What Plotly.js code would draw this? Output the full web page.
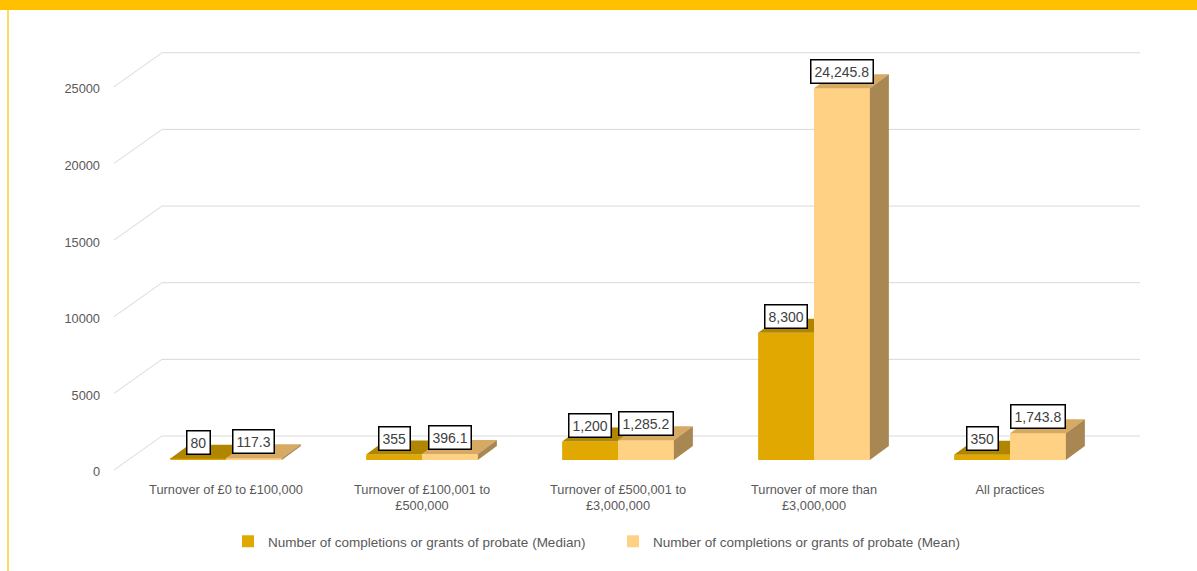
<!DOCTYPE html>
<html>
<head>
<meta charset="utf-8">
<script src="https://cdn.plot.ly/plotly-3.0.1.min.js"></script>
<style>html,body{margin:0;padding:0;background:#fff;}#chart{width:1197px;height:571px;}</style>
</head>
<body>
<div id="chart"></div>
<script>
// ---- data ----
const categories = [
  "Turnover of £0 to £100,000",
  "Turnover of £100,001 to<br>£500,000",
  "Turnover of £500,001 to<br>£3,000,000",
  "Turnover of more than<br>£3,000,000",
  "All practices"
];
const medianValues = [80, 355, 1200, 8300, 350];
const meanValues = [117.3, 396.1, 1285.2, 24245.8, 1743.8];
const seriesNames = [
  "Number of completions or grants of probate (Median)",
  "Number of completions or grants of probate (Mean)"
];
const yTicks = [0, 5000, 10000, 15000, 20000, 25000];
const yTickText = ["0", "5000", "10000", "15000", "20000", "25000"];

// ---- layout geometry (pixels) ----
const W = 1197, H = 571;
const ML = 128, MR = 89, MT = 20, MB = 91;
const plotW = W - ML - MR, plotH = H - MT - MB;
const plotBottom = H - MB;
const k = 0.01533;               // pixels per unit
const barZeroPx = 460;           // pixel of 0 at bar front plane
const frontZeroPx = 470;         // pixel of 0 at front plane (diagonal start)
const labelZeroPx = 472;         // pixel of 0 for the tick-label axis
const backZeroPx = 436;          // pixel of 0 at back wall
const yRange = [-(plotBottom - barZeroPx) / k, (barZeroPx - MT) / k];
const y2Range = [-(plotBottom - labelZeroPx) / k, (labelZeroPx - MT) / k];
const frontOff = (barZeroPx - frontZeroPx) / k; // units offset
const backOff = (barZeroPx - backZeroPx) / k;
const catPx = plotW / categories.length;
const bargap = 0.43;
const w = (1 - bargap) / 2;
const DX = 19 / catPx, DY = 14 / k;

const pxX = p => (p - ML) / plotW;
const pxY = p => (plotBottom - p) / plotH;

const C = {
  medFront: "#E0A800", medTop: "#B08600",
  meanFront: "#FFD185", meanTop: "#D6AA63", meanSide: "#A88752",
  grid: "#D9D9D9", text: "#595959"
};

const shapes = [];
// header band and left border
shapes.push({type: "rect", xref: "paper", yref: "paper", x0: pxX(0), x1: pxX(W), y0: pxY(10), y1: pxY(0),
  fillcolor: "#FFC000", line: {width: 0}, layer: "below"});
shapes.push({type: "line", xref: "paper", yref: "paper", x0: pxX(8), x1: pxX(8), y0: pxY(H), y1: pxY(10),
  line: {color: "#FFD966", width: 2}, layer: "below"});
// back-wall gridlines and floor diagonals
yTicks.forEach(v => {
  shapes.push({type: "line", xref: "paper", yref: "y", x0: pxX(162), x1: pxX(1140), y0: v + backOff, y1: v + backOff,
    line: {color: C.grid, width: 1}, layer: "below"});
  shapes.push({type: "line", xref: "paper", yref: "y", x0: pxX(114), x1: pxX(162), y0: v + frontOff, y1: v + backOff,
    line: {color: C.grid, width: 1}, layer: "below"});
});
const P = pts => "M" + pts.map(p => p[0] + "," + p[1]).join(" L") + " Z";
categories.forEach((c, i) => {
  const vm = medianValues[i], vn = meanValues[i];
  const x0 = i - w, x1 = i, x2 = i + w;
  shapes.push({type: "path", xref: "x", yref: "y", fillcolor: C.medTop, line: {width: 0},
    path: P([[x0, vm], [x1, vm], [x1 + DX, vm + DY], [x0 + DX, vm + DY]])});
  shapes.push({type: "path", xref: "x", yref: "y", fillcolor: C.meanFront, line: {width: 0},
    path: P([[x1, 0], [x2, 0], [x2, vn], [x1, vn]])});
  shapes.push({type: "path", xref: "x", yref: "y", fillcolor: C.meanTop, line: {width: 0},
    path: P([[x1, vn], [x2, vn], [x2 + DX, vn + DY], [x1 + DX, vn + DY]])});
  shapes.push({type: "path", xref: "x", yref: "y", fillcolor: C.meanSide, line: {width: 0},
    path: P([[x2, 0], [x2, vn], [x2 + DX, vn + DY], [x2 + DX, DY]])});
});

const fmtMed = v => v.toLocaleString("en-US");
const fmtMean = v => v.toLocaleString("en-US", {minimumFractionDigits: 1, maximumFractionDigits: 1});
const annotations = [];
categories.forEach((c, i) => {
  [[medianValues[i], i - w / 2, fmtMed], [meanValues[i], i + w / 2, fmtMean]].forEach(([v, x, f]) => {
    annotations.push({x: x, y: v, xref: "x", yref: "y", text: f(v), showarrow: false,
      yanchor: "bottom", yshift: 4, bgcolor: "#FFFFFF", bordercolor: "#000000", borderwidth: 1.5, borderpad: 3,
      font: {family: "Liberation Sans, Arial, sans-serif", size: 14, color: "#404040"}});
  });
});

const traces = [
  {type: "bar", name: seriesNames[0], x: categories, y: medianValues, marker: {color: C.medFront}, hoverinfo: "y+name"},
  {type: "bar", name: seriesNames[1], x: categories, y: meanValues, marker: {color: C.meanFront}, hoverinfo: "y+name"},
  {type: "scatter", x: [categories[0]], y: [0], yaxis: "y2", mode: "markers", marker: {opacity: 0}, showlegend: false, hoverinfo: "skip"}
];

const layout = {
  width: W, height: H,
  margin: {l: ML, r: MR, t: MT, b: MB, autoexpand: false},
  paper_bgcolor: "#FFFFFF", plot_bgcolor: "rgba(0,0,0,0)",
  barmode: "group", bargap: bargap, bargroupgap: 0,
  font: {family: "Liberation Sans, Arial, sans-serif", size: 12.5, color: C.text},
  xaxis: {type: "category", range: [-0.5, categories.length - 0.5], showgrid: false, zeroline: false,
    showline: false, ticks: "", tickfont: {size: 12.8, color: C.text}, fixedrange: true},
  yaxis: {range: yRange, showgrid: false, zeroline: false, showticklabels: false, showline: false, fixedrange: true},
  yaxis2: {range: y2Range, overlaying: "y", anchor: "x", side: "left", showgrid: false, zeroline: false,
    showline: false, tickmode: "array", tickvals: yTicks, ticktext: yTickText, ticks: "",
    ticklabelstandoff: 27, tickfont: {size: 12.8, color: C.text}, fixedrange: true},
  showlegend: true,
  legend: {orientation: "h", x: pxX(228), xanchor: "left", y: pxY(526), yanchor: "top",
    entrywidth: 340, entrywidthmode: "pixels",
    font: {size: 13.5, color: C.text}, itemclick: false, traceorder: "normal"},
  shapes: shapes,
  annotations: annotations
};

Plotly.newPlot("chart", traces, layout, {displayModeBar: false, responsive: false});
</script>
</body>
</html>
